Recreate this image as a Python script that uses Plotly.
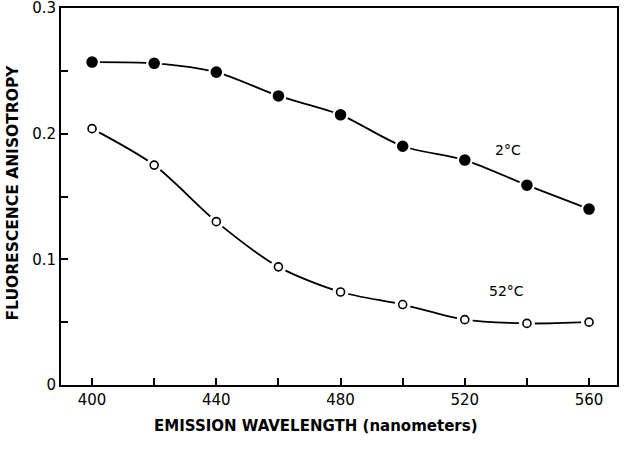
import plotly.graph_objects as go

wavelength = [400, 420, 440, 460, 480, 500, 520, 540, 560]
aniso_2C = [0.257, 0.256, 0.249, 0.230, 0.215, 0.190, 0.179, 0.159, 0.140]
aniso_52C = [0.204, 0.175, 0.130, 0.094, 0.074, 0.064, 0.052, 0.049, 0.050]
x_ticks = [400, 440, 480, 520, 560]
x_tick_labels = ["400", "440", "480", "520", "560"]
y_ticks = [0, 0.1, 0.2, 0.3]
y_tick_labels = ["0", "0.1", "0.2", "0.3"]

FONT = "DejaVu Sans, Arial, sans-serif"

fig = go.Figure()
for ys, filled in [(aniso_2C, True), (aniso_52C, False)]:
    # smooth curve
    fig.add_trace(go.Scatter(x=wavelength, y=ys, mode="lines",
                             line=dict(color="black", width=1.8, shape="spline", smoothing=0.8),
                             hoverinfo="skip", showlegend=False))
    # white halo to break the line around markers
    fig.add_trace(go.Scatter(x=wavelength, y=ys, mode="markers",
                             marker=dict(size=16, color="white", line=dict(width=0)),
                             hoverinfo="skip", showlegend=False))
    fig.add_trace(go.Scatter(x=wavelength, y=ys, mode="markers",
                             marker=dict(size=10 if filled else 8,
                                         color="black" if filled else "white",
                                         symbol="circle",
                                         line=dict(color="black", width=1.6)),
                             showlegend=False))

fig.add_annotation(x=534, y=0.187, text="2°C", showarrow=False,
                   font=dict(family=FONT, size=14, color="black"))
fig.add_annotation(x=533.5, y=0.0745, text="52°C", showarrow=False,
                   font=dict(family=FONT, size=14, color="black"))

# axis titles
fig.add_annotation(xref="paper", yref="paper", x=0, y=0.5, xshift=-49, yshift=4,
                   xanchor="center", yanchor="middle", textangle=-90, showarrow=False,
                   text="<b>FLUORESCENCE ANISOTROPY</b>",
                   font=dict(family=FONT, size=15.5, color="black"))
fig.add_annotation(xref="paper", yref="paper", x=0.4586, y=0, yshift=-41,
                   xanchor="center", yanchor="middle", showarrow=False,
                   text="<b>EMISSION WAVELENGTH (nanometers)</b>",
                   font=dict(family=FONT, size=15, color="black"))

fig.update_xaxes(range=[390, 569], tickmode="array", tickvals=x_ticks, ticktext=x_tick_labels,
                 ticks="inside", ticklen=7, tickwidth=1.6, tickcolor="black",
                 minor=dict(tickmode="array", tickvals=[420, 460, 500, 540], ticks="inside",
                            ticklen=7, tickwidth=1.6, tickcolor="black"),
                 showline=True, linecolor="black", linewidth=2, mirror=True,
                 showgrid=False, zeroline=False, automargin=False,
                 ticklabeloverflow="allow",
                 tickfont=dict(family=FONT, size=15, color="black"))
fig.update_yaxes(range=[0, 0.3], tickmode="array", tickvals=y_ticks, ticktext=y_tick_labels,
                 ticks="inside", ticklen=7, tickwidth=1.6, tickcolor="black",
                 minor=dict(tickmode="array", tickvals=[0.05, 0.15, 0.25], ticks="inside",
                            ticklen=7, tickwidth=1.6, tickcolor="black"),
                 showline=True, linecolor="black", linewidth=2, mirror=True,
                 showgrid=False, zeroline=False, automargin=False,
                 ticklabeloverflow="allow",
                 tickfont=dict(family=FONT, size=15, color="black"))

fig.update_layout(width=630, height=456, margin=dict(l=61, r=13, t=8, b=71),
                  paper_bgcolor="white", plot_bgcolor="white")

fig.write_html("out.html", config={"displayModeBar": False},
               post_script="document.body.style.margin='0';")
